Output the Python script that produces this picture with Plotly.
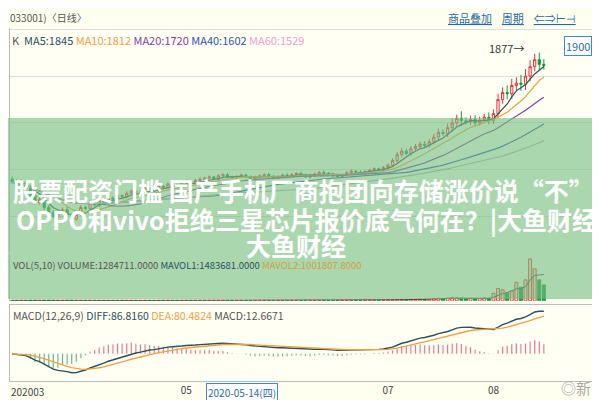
import numpy as np
import pandas as pd
import plotly.graph_objects as go

# daily closes, Mar 2020 - mid Aug 2020
close = [1350, 1330, 1345, 1320, 1290, 1260, 1275, 1240, 1220, 1200, 1215, 1230, 1205, 1190, 1210, 1240, 1235, 1260, 1250, 1270, 1265,
         1280, 1275, 1290, 1285, 1300, 1310, 1295, 1305, 1320, 1315, 1310, 1330, 1325, 1340, 1335, 1330, 1345, 1350, 1340, 1355, 1360,
         1365, 1370, 1360, 1375, 1380, 1370, 1365, 1372, 1378, 1370, 1360, 1368, 1375, 1380, 1372, 1365, 1370, 1378, 1375,
         1380, 1385, 1378, 1370, 1375, 1382, 1390, 1385, 1380, 1376, 1372, 1380, 1388, 1395, 1390, 1385, 1392, 1398, 1405, 1400, 1410,
         1420, 1440, 1465, 1480, 1470, 1490, 1500, 1510, 1505, 1520, 1540, 1560, 1555, 1580, 1600, 1620, 1610, 1605, 1615, 1600, 1612, 1625, 1610,
         1640, 1700, 1730, 1725, 1760, 1770, 1765, 1800, 1840, 1870, 1850, 1845]
wick = [12, 10, 15, 8, 14, 10, 9, 12, 10, 8, 11, 9, 12, 10, 8, 9, 7, 10, 8, 9, 7,
        6, 8, 7, 6, 8, 7, 6, 9, 7, 6, 8, 7, 6, 7, 8, 6, 7, 9, 6, 7, 8,
        6, 7, 5, 8, 6, 7, 5, 6, 7, 5, 6, 8, 6, 5, 7, 6, 5, 6, 7,
        6, 5, 7, 6, 8, 6, 5, 7, 6, 9, 6, 5, 7, 6, 5, 8, 6, 7, 6, 5, 7,
        8, 10, 12, 14, 10, 12, 11, 10, 13, 12, 14, 16, 12, 18, 20, 15, 30, 14, 16, 18, 15, 14, 20,
        18, 25, 22, 30, 28, 25, 35, 30, 28, 25, 30, 22]
volume = [40000, 35000, 42000, 38000, 45000, 50000, 41000, 48000, 52000, 47000, 43000, 39000, 44000, 46000, 40000, 42000, 38000, 41000, 37000, 36000, 35000,
          34000, 33000, 36000, 35000, 37000, 34000, 32000, 33000, 35000, 34000, 31000, 32000, 33000, 35000, 34000, 32000, 33000, 36000, 34000, 33000, 35000,
          34000, 36000, 33000, 35000, 37000, 34000, 32000, 33000, 35000, 33000, 31000, 32000, 34000, 35000, 33000, 32000, 33000, 34000, 35000,
          36000, 35000, 34000, 33000, 35000, 36000, 37000, 35000, 34000, 36000, 35000, 37000, 38000, 40000, 39000, 41000, 43000, 45000, 48000, 46000, 50000,
          60000, 75000, 90000, 110000, 95000, 120000, 105000, 130000, 115000, 140000, 170000, 200000, 160000, 210000, 260000, 240000, 220000, 180000, 200000, 170000, 190000, 230000, 210000,
          600000, 1000000, 900000, 650000, 800000, 1500000, 1100000, 1700000, 3400000, 2600000, 1700000, 1284711]
month_pos = [38, 82, 105]
month_txt = ["05", "07", "08"]
side_txt = ["卖", "买", "最", "涨", "幅", "总", "现", "涨", "外", "北", "14", "15"]

n = len(close)
x = list(range(n))
c = np.array(close, dtype=float)
o = np.r_[c[0] + 10, c[:-1]]
hi = np.maximum(o, c) + np.array(wick)
lo = np.minimum(o, c) - np.array(wick) * 0.8
s = pd.Series(c)
ma = {k: s.rolling(k, min_periods=1).mean() for k in (5, 10, 20, 40, 60)}
ema12 = s.ewm(span=12, adjust=False).mean()
ema26 = s.ewm(span=26, adjust=False).mean()
diff = ema12 - ema26
dea = diff.ewm(span=9, adjust=False).mean()
macd = 2 * (diff - dea)
up = c >= o

RED, GRN = "#e8303a", "#119a3a"
fig = go.Figure()
fig.add_trace(go.Candlestick(x=x, open=o, high=hi, low=lo, close=c,
                             increasing=dict(line=dict(color=RED, width=1), fillcolor="#fffbe8"),
                             decreasing=dict(line=dict(color=GRN, width=1), fillcolor=GRN),
                             whiskerwidth=0, xaxis="x", yaxis="y"))
ma_col = {5: "#2d4f5e", 10: "#f0a040", 20: "#8040a0", 40: "#3050b0", 60: "#b0b0b0"}
for k, v in ma.items():
    fig.add_trace(go.Scatter(x=x, y=v, mode="lines", line=dict(color=ma_col[k], width=1.2), xaxis="x", yaxis="y"))
fig.add_trace(go.Bar(x=x, y=volume, marker=dict(color=["#fbe3c0" if u else GRN for u in up],
                     line=dict(color=[RED if u else GRN for u in up], width=1)), xaxis="x", yaxis="y2"))
vs = pd.Series(volume, dtype=float)
fig.add_trace(go.Scatter(x=x, y=vs.rolling(5, min_periods=1).mean(), mode="lines", line=dict(color="#444", width=1), xaxis="x", yaxis="y2"))
fig.add_trace(go.Bar(x=x, y=macd, width=0.25, marker=dict(color=[RED if m >= 0 else GRN for m in macd]), xaxis="x", yaxis="y3"))
fig.add_trace(go.Scatter(x=x, y=diff, mode="lines", line=dict(color="#2d4f5e", width=1.4), xaxis="x", yaxis="y3"))
fig.add_trace(go.Scatter(x=x, y=dea, mode="lines", line=dict(color="#f0a040", width=1.4), xaxis="x", yaxis="y3"))

xr = [-0.5, -0.5 + n * 585 / 538]
ax = dict(showgrid=False, zeroline=False, showticklabels=False, showline=True, linecolor="#bbb", mirror=True, fixedrange=True)
fig.update_layout(
    width=600, height=400, margin=dict(l=0, r=0, t=0, b=0), showlegend=False,
    paper_bgcolor="#fffff0", plot_bgcolor="#fffff4", bargap=0.35,
    font=dict(family="Noto Sans CJK SC", size=11, color="#555"),
    xaxis=dict(ax, domain=[0.003, 0.975], range=xr, anchor="y3", rangeslider=dict(visible=False),
               showticklabels=True, tickvals=month_pos, ticktext=month_txt, ticks="", tickfont=dict(size=10, color="#444")),
    yaxis=dict(ax, domain=[0.39, 0.95], range=[1050, 2005], showgrid=True, gridcolor="#ddd", nticks=5),
    yaxis2=dict(ax, domain=[0.268, 0.385], range=[0, 3800000]),
    yaxis3=dict(ax, domain=[0.068, 0.258], range=[-55, 100]),
)
fig.add_annotation(x=0.002, y=0.018, xref="paper", yref="paper", xanchor="left", yanchor="bottom", text="202003",
                   showarrow=False, font=dict(size=10, color="#444"))
fig.add_annotation(x=0, y=1, xref="paper", yref="paper", xanchor="left", yanchor="top", text="033001)〈日线〉",
                   showarrow=False, font=dict(size=10, color="#555"))
fig.add_annotation(x=0.73, y=1, xref="paper", yref="paper", xanchor="left", yanchor="top",
                   text="<u>商品叠加</u>    <u>周期</u>    <u>⇐⇒⊢⊣</u>", showarrow=False, font=dict(size=11, color="#2a6aa0"))
fig.add_annotation(x=0.003, y=0.945, xref="paper", yref="paper", xanchor="left", yanchor="top", showarrow=False,
                   text="K  <span style='color:#2d4f5e'>MA5:1845</span> <span style='color:#f0a040'>MA10:1812</span> "
                        "<span style='color:#8040a0'>MA20:1720</span> <span style='color:#3050b0'>MA40:1602</span> "
                        "<span style='color:#f0a0d0'>MA60:1529</span>", font=dict(size=11))
fig.add_annotation(x=0.005, y=0.38, xref="paper", yref="paper", xanchor="left", yanchor="top", showarrow=False,
                   text="VOL(5,10) VOLUME:1284711.0000 <span style='color:#2d4f5e'>MAVOL1:1483681.0000</span> "
                        "<span style='color:#d0a040'>MAVOL2:1001807.8000</span>", font=dict(size=9.5))
fig.add_annotation(x=0.005, y=0.255, xref="paper", yref="paper", xanchor="left", yanchor="top", showarrow=False,
                   text="MACD(12,26,9) <span style='color:#2d4f5e'>DIFF:86.8160</span> "
                        "<span style='color:#f0a040'>DEA:80.4824</span> MACD:12.6671", font=dict(size=10.5))
fig.add_annotation(x=n - 5, y=1877, xref="x", yref="y", xanchor="right", yanchor="bottom", text="1877→", showarrow=False,
                   font=dict(size=11, color="#333"))
fig.add_annotation(x=0.973, y=0.93, xref="paper", yref="paper", xanchor="right", text="1900", showarrow=False,
                   bordercolor="#3a8ad8", borderwidth=1, bgcolor="#fff", font=dict(size=11, color="#2a6aa0"))
fig.add_annotation(x=0.39, y=0.015, xref="paper", yref="paper", yanchor="bottom", text="2020-05-14(四)", showarrow=False,
                   bordercolor="#3a8ad8", borderwidth=1, bgcolor="#fff", font=dict(size=10, color="#2a6aa0"))
# right side panel
fig.add_shape(type="rect", xref="paper", yref="paper", x0=0.977, x1=1, y0=0, y1=0.95, fillcolor="#fffff0",
              line=dict(color="#ccc", width=1))
fig.add_shape(type="rect", xref="paper", yref="paper", x0=0.976, x1=1, y0=0.915, y1=0.925, fillcolor=RED, line_width=0)
for i, ch in enumerate(side_txt):
    fig.add_annotation(x=0.978, y=1 - (47 + i * 25) / 400, xref="paper", yref="paper", xanchor="left", text=ch,
                       showarrow=False, font=dict(size=14, color="#333"))
fig.add_annotation(x=1.0, y=0.02, xref="paper", yref="paper", xanchor="right", yanchor="bottom", text="◎新浪", showarrow=False,
                   font=dict(size=15, color="#aaa"))
# headline band
fig.add_shape(type="rect", xref="paper", yref="paper", x0=0, x1=1, y0=1 - 291 / 400, y1=1 - 110 / 400,
              fillcolor="rgba(120,190,130,0.62)", line_width=0)
hf = dict(size=25, color="white", family="Noto Sans CJK SC")
fig.add_annotation(x=0.005, y=1 - 182 / 400, xref="paper", yref="paper", xanchor="left", showarrow=False,
                   text="<b>股票配资门槛 国产手机厂商抱团向存储涨价说“不”</b>", font=hf)
fig.add_annotation(x=0.01, y=1 - 211 / 400, xref="paper", yref="paper", xanchor="left", showarrow=False,
                   text="<b>OPPO和vivo拒绝三星芯片报价底气何在？|大鱼财经</b>", font=hf)
fig.add_annotation(x=0.48, y=1 - 237 / 400, xref="paper", yref="paper", showarrow=False,
                   text="<b>大鱼财经</b>", font=hf)
fig.write_html("out.html")
